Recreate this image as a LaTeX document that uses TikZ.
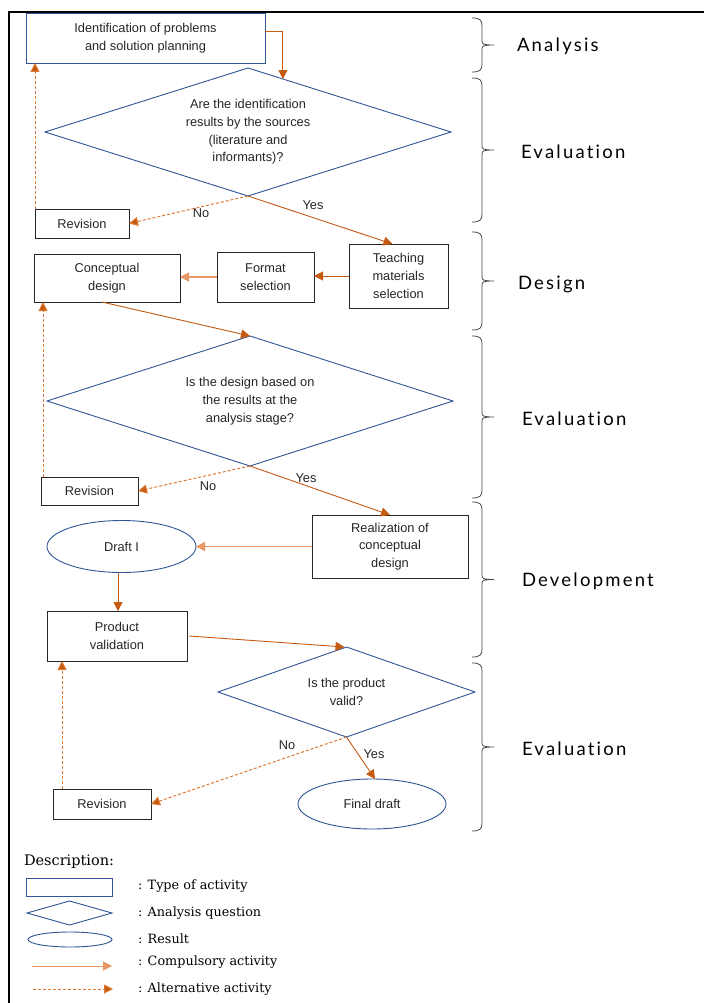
\documentclass[tikz,border=0pt]{standalone}
\usepackage{fontspec}
\setmainfont{DejaVu Serif}
\newfontfamily\boxfont{Liberation Sans}
\newfontfamily\stagefont[LetterSpace=12,Ligatures=NoCommon]{Lato}
\usetikzlibrary{shapes.geometric,arrows.meta,calc}
\definecolor{orng}{RGB}{197,90,17}
\definecolor{lorng}{RGB}{232,150,100}
\definecolor{dorng}{RGB}{220,120,50}
\definecolor{blu}{RGB}{47,85,151}
\definecolor{brc}{RGB}{70,70,70}
\newcommand\stagebrc[3]{% x, top, bottom
  \draw[brc line] (#1,#2) .. controls (#1+8,#2) and (#1+10,#2+2) .. (#1+10,#2+8)
    -- (#1+10,{(#2+#3)/2-4}) .. controls (#1+10,{(#2+#3)/2-1}) and (#1+11,{(#2+#3)/2}) .. (#1+22,{(#2+#3)/2})
    (#1+22,{(#2+#3)/2}) .. controls (#1+11,{(#2+#3)/2}) and (#1+10,{(#2+#3)/2+1}) .. (#1+10,{(#2+#3)/2+4})
    -- (#1+10,#3-8) .. controls (#1+10,#3-2) and (#1+8,#3) .. (#1,#3);}
\begin{document}
\begin{tikzpicture}[x=1pt,y=-1pt,
  every node/.style={inner sep=0pt, outer sep=0pt},
  txt/.style={font=\boxfont\fontsize{12.8}{17.7}\selectfont, align=center, text=black!85},
  actbox/.style={txt, rectangle, draw=black!85, line width=0.9pt},
  bluebox/.style={txt, rectangle, draw=blu, line width=0.9pt},
  question/.style={txt, diamond, draw=blu, line width=0.9pt},
  result/.style={txt, ellipse, draw=blu, line width=0.9pt},
  comp/.style={draw=orng, line width=0.9pt, -{Triangle[length=9pt,width=9pt]}},
  alt/.style={draw=dorng, line width=1pt, dash pattern=on 3pt off 2pt, -{Triangle[length=9pt,width=9pt,fill=orng]}},
  lbl/.style={font=\boxfont\fontsize{12.8}{15}\selectfont, text=black!85},
  brc line/.style={draw=brc, line width=0.8pt},
  stage/.style={font=\stagefont\fontsize{18.5}{20}\selectfont, anchor=west, text=black},
  legtxt/.style={font=\fontsize{12.8}{15}\selectfont, anchor=west}
]
\useasboundingbox (0,0) rectangle (704,1003);
\fill[white] (0,0) rectangle (704,1003);
% frame
\draw[line width=2pt] (704,12) -- (9,12) -- (9,1003);

% nodes
\node[bluebox, minimum width=239, minimum height=50] (top) at (145.5,38) {Identification of problems\\and solution planning};
\node[question, minimum width=406, minimum height=128, aspect=3.17] (d1) at (248,132)
  {Are the identification\\results by the sources\\(literature and\\informants)?};
\node[actbox, minimum width=94, minimum height=29] (rev1) at (82,223.5) {Revision};
\node[actbox, minimum width=99, minimum height=64] (teach) at (398.5,276) {Teaching\\materials\\selection};
\node[actbox, minimum width=97, minimum height=50] (format) at (265.5,277) {Format\\selection};
\node[actbox, minimum width=146, minimum height=48] (concept) at (107,278) {Conceptual\\design};
\node[question, minimum width=406, minimum height=130, aspect=3.1] (d2) at (250,401)
  {Is the design based on\\the results at the\\analysis stage?};
\node[actbox, minimum width=97, minimum height=28] (rev2) at (89.5,491) {Revision};
\node[actbox, minimum width=156, minimum height=63] (real) at (390,546.5) {Realization of\\conceptual\\design};
\node[result, minimum width=149, minimum height=52] (draft) at (121.5,546.5) {Draft I};
\node[actbox, minimum width=140, minimum height=50] (prod) at (117,636) {Product\\validation};
\node[question, minimum width=257, minimum height=90, aspect=2.85] (d3) at (346.5,692) {Is the product\\valid?};
\node[actbox, minimum width=98, minimum height=30] (rev3) at (102,804) {Revision};
\node[result, minimum width=148, minimum height=50] (final) at (372,804) {Final draft};

% labels
\node[lbl] (no1) at (201,213) {No};
\node[lbl] (yes1) at (313,205) {Yes};
\node[lbl] (no2) at (208,486) {No};
\node[lbl] (yes2) at (306,478) {Yes};
\node[lbl] (no3) at (287,745) {No};
\node[lbl] (yes3) at (374,754) {Yes};

% connectors
\draw[comp] ([yshift=7]top.east) -| ($(d1.north)!0.172!(d1.east)$);
\draw[alt] (d1.south) -- (rev1.east);
\draw[comp] (d1.south) -- ([xshift=-6]teach.north);
\draw[alt] (rev1.north west) -- (rev1.north west |- top.south);
\draw[comp] (teach.west) -- (teach.west -| format.east);
\draw[comp, draw=lorng, line width=1.5pt] (format.west) -- (format.west -| concept.east);
\draw[comp] ([xshift=-5]concept.south) -- (d2.north);
\draw[alt] (d2.south) -- (rev2.east);
\draw[comp] (d2.south) -- (real.north);
\draw[alt] ([xshift=2]rev2.north west) -- ([xshift=2]rev2.north west |- concept.south);
\draw[comp, draw=lorng, line width=1.3pt] (real.west) -- (draft.east);
\draw[comp] ([xshift=-3.5]draft.south) -- ([xshift=-3.5]draft.south |- prod.north);
\draw[comp] ([xshift=2]prod.east) -- ([xshift=-2]d3.north);
\draw[alt] (d3.south) -- (rev3.east);
\draw[comp] (d3.south) -- ([xshift=3]final.north);
\draw[alt] ([xshift=9]rev3.north west) -- ([xshift=9]rev3.north west |- prod.south);

% braces and stage names
\stagebrc{472}{18}{72}
\stagebrc{472}{78}{222}
\stagebrc{472}{232}{330}
\stagebrc{472}{336}{498}
\stagebrc{472}{502}{657}
\stagebrc{472}{663}{831}
\node[stage] (s1) at (517,46) {Analysis};
\node[stage] (s2) at (521,152) {Evaluation};
\node[stage] (s3) at (518,284) {Design};
\node[stage] (s4) at (522,419) {Evaluation};
\node[stage] (s5) at (522,581) {Development};
\node[stage] (s6) at (522,749) {Evaluation};

% legend
\node[anchor=west, font=\fontsize{14.5}{16}\selectfont] (desc) at (24,862) {Description:};
\node[rectangle, draw=blu, line width=0.9pt, minimum width=86, minimum height=18] (lrect) at (69,887) {};
\node[diamond, draw=blu, line width=0.9pt, minimum width=85, minimum height=24, aspect=3.5] (ldia) at (69.5,913) {};
\node[ellipse, draw=blu, line width=0.9pt, minimum width=84, minimum height=15] (lell) at (70,939.5) {};
\coordinate (la1) at (32,966); \coordinate (la2) at (112,966);
\coordinate (lb1) at (33,989); \coordinate (lb2) at (113,989);
\draw[comp, draw=lorng] (la1) -- (la2);
\draw[alt] (lb1) -- (lb2);
\node[legtxt] (t1) at (138,886) {: Type of activity};
\node[legtxt] (t2) at (138,913) {: Analysis question};
\node[legtxt] (t3) at (138,939) {: Result};
\node[legtxt] (t4) at (138,962) {: Compulsory activity};
\node[legtxt] (t5) at (138,989) {: Alternative activity};
\end{tikzpicture}
\end{document}
